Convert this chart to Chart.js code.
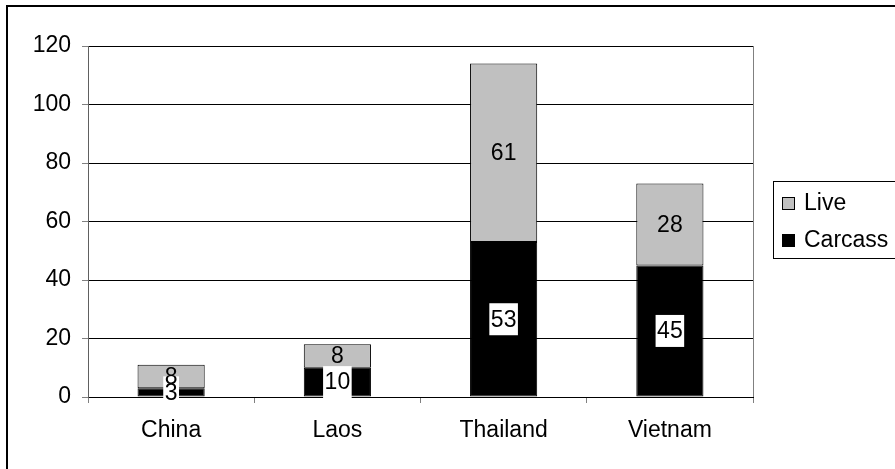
<!DOCTYPE html>
<html>
<head>
<meta charset="utf-8">
<script src="https://cdn.jsdelivr.net/npm/chart.js@4.4.0/dist/chart.umd.min.js"></script>
<style>
  html, body { margin: 0; padding: 0; background: #fff; }
  #wrap { width: 895px; height: 469px; }
</style>
</head>
<body>
<div id="wrap"><canvas id="chart" width="895" height="469"></canvas></div>
<script>
const categories = ['China', 'Laos', 'Thailand', 'Vietnam'];
const carcassValues = [3, 10, 53, 45];
const liveValues = [8, 8, 61, 28];
const yTicks = [0, 20, 40, 60, 80, 100, 120];

const FONT = "'Liberation Sans', Arial, sans-serif";

// labels, frame and legend box drawn by hand
const extras = {
    id: 'extras',
    beforeDraw(chart) {
        const ctx = chart.ctx;
        ctx.save();
        ctx.fillStyle = '#fff';
        ctx.fillRect(0, 0, chart.width, chart.height);
        ctx.restore();
    },
    afterDatasetsDraw(chart) {
        const ctx = chart.ctx;
        const area = chart.chartArea;
        ctx.save();
        ctx.font = '23px ' + FONT;
        ctx.textAlign = 'center';
        ctx.textBaseline = 'middle';

        // carcass labels (white box)
        chart.getDatasetMeta(0).data.forEach((bar, i) => {
            const mid = (bar.y + bar.base) / 2;
            const txt = String(carcassValues[i]);
            const w = ctx.measureText(txt).width + 3;
            ctx.fillStyle = '#fff';
            ctx.fillRect(bar.x - w / 2, mid - 16, w, 32);
            ctx.fillStyle = '#000';
            ctx.fillText(txt, bar.x, mid + 1);
        });
        // live labels (plain text)
        chart.getDatasetMeta(1).data.forEach((bar, i) => {
            const mid = (bar.y + bar.base) / 2;
            ctx.fillStyle = '#000';
            ctx.fillText(String(liveValues[i]), bar.x, mid + 1);
        });

        // right side of plot area
        ctx.strokeStyle = '#808080';
        ctx.lineWidth = 1;
        ctx.beginPath();
        ctx.moveTo(Math.round(area.right) + 0.5, area.top);
        ctx.lineTo(Math.round(area.right) + 0.5, area.bottom);
        ctx.stroke();
        ctx.restore();
    },
    afterDraw(chart) {
        const ctx = chart.ctx;
        ctx.save();
        // outer frame
        ctx.strokeStyle = '#000';
        ctx.lineWidth = 2;
        ctx.strokeRect(7, 6, 1000, 1000);

        // legend
        ctx.lineWidth = 1;
        ctx.fillStyle = '#fff';
        ctx.fillRect(773.5, 181.5, 200, 77);
        ctx.strokeRect(773.5, 181.5, 200, 77);
        const items = [chart.data.datasets[1], chart.data.datasets[0]];
        ctx.font = '23px ' + FONT;
        ctx.textAlign = 'left';
        ctx.textBaseline = 'middle';
        items.forEach((ds, k) => {
            const cy = 203 + k * 37;
            ctx.fillStyle = ds.backgroundColor;
            ctx.fillRect(782.5, cy - 5.5, 12, 12);
            ctx.strokeStyle = '#000';
            ctx.strokeRect(782.5, cy - 5.5, 12, 12);
            ctx.fillStyle = '#000';
            ctx.fillText(ds.label, 804, cy + 1);
        });
        ctx.restore();
    }
};

new Chart(document.getElementById('chart'), {
    type: 'bar',
    data: {
        labels: categories,
        datasets: [
            {
                label: 'Carcass',
                data: carcassValues,
                backgroundColor: '#000000',
                borderColor: '#000000',
                borderWidth: 1,
                borderSkipped: false,
                barPercentage: 0.404,
                categoryPercentage: 1
            },
            {
                label: 'Live',
                data: liveValues,
                backgroundColor: '#C0C0C0',
                borderColor: '#000000',
                borderWidth: 1,
                borderSkipped: false,
                barPercentage: 0.404,
                categoryPercentage: 1
            }
        ]
    },
    options: {
        responsive: false,
        animation: false,
        layout: { padding: { left: 0, top: 46, right: 142, bottom: 0 } },
        plugins: {
            legend: { display: false },
            tooltip: { enabled: false }
        },
        scales: {
            x: {
                stacked: true,
                afterFit: (s) => { s.height = 72; },
                grid: {
                    offset: true,
                    drawOnChartArea: false,
                    tickLength: 6,
                    color: '#808080'
                },
                border: { color: '#000', width: 1 },
                ticks: {
                    font: { family: FONT, size: 23 },
                    color: '#000',
                    padding: 14
                }
            },
            y: {
                stacked: true,
                min: 0,
                max: 120,
                afterFit: (s) => { s.width = 88; },
                afterBuildTicks: (s) => { s.ticks = yTicks.map(v => ({ value: v })); },
                grid: {
                    color: '#000',
                    tickLength: 6,
                    tickColor: '#808080'
                },
                border: { color: '#606060', width: 1 },
                ticks: {
                    font: { family: FONT, size: 23 },
                    color: '#000',
                    padding: 11
                }
            }
        }
    },
    plugins: [extras]
});
</script>
</body>
</html>
